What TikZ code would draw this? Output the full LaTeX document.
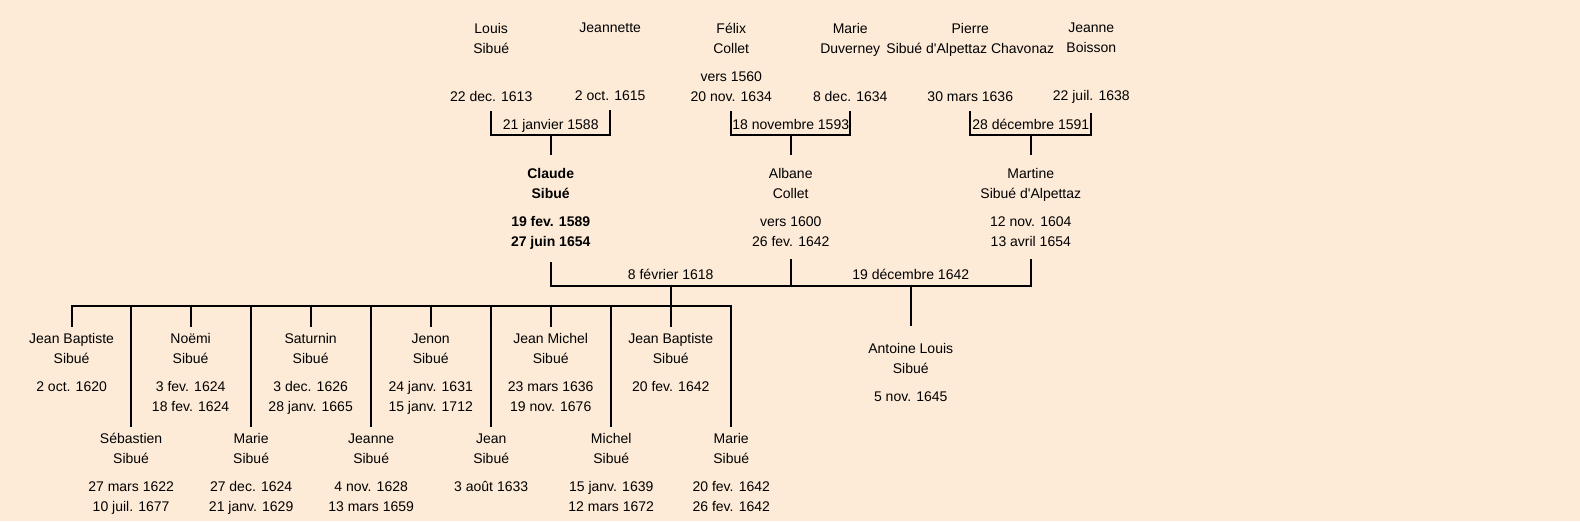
\documentclass[tikz,border=0pt]{standalone}
\usepackage{fontspec}
\setmainfont{Liberation Sans}
\definecolor{fond}{RGB}{253,235,216}
\begin{document}
\begin{tikzpicture}[
  x=1.0086pt, y=-1.0086pt, line width=2pt,
  font=\fontsize{14}{19.87}\selectfont,
  every node/.style={align=center, inner sep=0pt}
]
\tikzset{
  haut/.style={anchor=north, inner ysep=8.5pt},
  parent/.style={anchor=north, inner ysep=12pt},
  enfant/.style={anchor=north, inner ysep=6pt},
  mariage/.style={anchor=base}
}
\useasboundingbox (0,0) rectangle (1566.53,516.56);
\fill[fond] (0,0) rectangle (1566.53,516.56);
% grands-parents
\node[haut] (louis) at (487,13.4) {Louis\\Sibué\\[8.37pt]~\\22 dec. 1613};
\node[haut] (jeannette) at (605,13.4) {Jeannette\\~\\[8.37pt]~\\2 oct. 1615};
\node[haut] (felix) at (725,13.4) {Félix\\Collet\\[8.37pt]vers 1560\\20 nov. 1634};
\node[haut] (marie) at (843,13.4) {Marie\\Duverney\\[8.37pt]~\\8 dec. 1634};
\node[haut] (pierre) at (962,13.4) {Pierre\\Sibué d\textquotesingle Alpettaz Chavonaz\\[8.37pt]~\\30 mars 1636};
\node[haut] (jeanne) at (1082,13.4) {Jeanne\\Boisson\\[8.37pt]~\\22 juil. 1638};
% parents
\node[parent, font=\fontsize{14}{19.87}\selectfont\bfseries] (claude) at (546,153.9) {Claude\\Sibué\\[8.37pt]19 fev. 1589\\27 juin 1654};
\node[parent] (albane) at (784,153.9) {Albane\\Collet\\[8.37pt]vers 1600\\26 fev. 1642};
\node[parent] (martine) at (1022,153.9) {Martine\\Sibué d\textquotesingle Alpettaz\\[8.37pt]12 nov. 1604\\13 avril 1654};
% enfants
\node[enfant] (jb) at (71,323.9) {Jean Baptiste\\Sibué\\[8.37pt]2 oct. 1620};
\node[enfant] (sebastien) at (130,422.9) {Sébastien\\Sibué\\[8.37pt]27 mars 1622\\10 juil. 1677};
\node[enfant] (noemi) at (189,323.9) {Noëmi\\Sibué\\[8.37pt]3 fev. 1624\\18 fev. 1624};
\node[enfant] (mariea) at (249,422.9) {Marie\\Sibué\\[8.37pt]27 dec. 1624\\21 janv. 1629};
\node[enfant] (saturnin) at (308,323.9) {Saturnin\\Sibué\\[8.37pt]3 dec. 1626\\28 janv. 1665};
\node[enfant] (jeannea) at (368,422.9) {Jeanne\\Sibué\\[8.37pt]4 nov. 1628\\13 mars 1659};
\node[enfant] (jenon) at (427,323.9) {Jenon\\Sibué\\[8.37pt]24 janv. 1631\\15 janv. 1712};
\node[enfant] (jean) at (487,422.9) {Jean\\Sibué\\[8.37pt]3 août 1633};
\node[enfant] (jeanmichel) at (546,323.9) {Jean Michel\\Sibué\\[8.37pt]23 mars 1636\\19 nov. 1676};
\node[enfant] (michel) at (606,422.9) {Michel\\Sibué\\[8.37pt]15 janv. 1639\\12 mars 1672};
\node[enfant] (jbb) at (665,323.9) {Jean Baptiste\\Sibué\\[8.37pt]20 fev. 1642};
\node[enfant] (marieb) at (725,422.9) {Marie\\Sibué\\[8.37pt]20 fev. 1642\\26 fev. 1642};
\node[enfant, inner ysep=17pt] (antoine) at (903,322.9) {Antoine Louis\\Sibué\\[8.37pt]5 nov. 1645};
% mariages
\coordinate (m1) at (546,134);
\coordinate (m2) at (784,134);
\coordinate (m3) at (1022,134);
\coordinate (m4) at (665,284);
\coordinate (m5) at (903,284);
\coordinate (fam) at (665,303);
\node[mariage] (d1) at (546,128.8) {21 janvier 1588};
\node[mariage] (d2) at (784,128.8) {18 novembre 1593};
\node[mariage] (d3) at (1022,128.8) {28 décembre 1591};
\node[mariage] (d4) at (665,276.8) {8 février 1618};
\node[mariage] (d5) at (903,276.8) {19 décembre 1642};
\draw (louis.south) |- (m1) -| (jeannette.south);
\draw (felix.south) |- (m2) -| (marie.south);
\draw (pierre.south) |- (m3) -| (jeanne.south);
\draw (m1) -- (claude.north);
\draw (m2) -- (albane.north);
\draw (m3) -- (martine.north);
\draw (claude.south) |- (m4) -| (albane.south);
\draw (albane.south) |- (m5) -| (martine.south);
\draw (m4) -- (fam);
\draw (m5) -- (antoine.north);
\draw (jb.north) |- (fam) -| (marieb.north);
\foreach \e in {sebastien,noemi,mariea,saturnin,jeannea,jenon,jean,jeanmichel,michel,jbb}
  \draw (\e.north) -- (\e.north |- fam);
\end{tikzpicture}
\end{document}
